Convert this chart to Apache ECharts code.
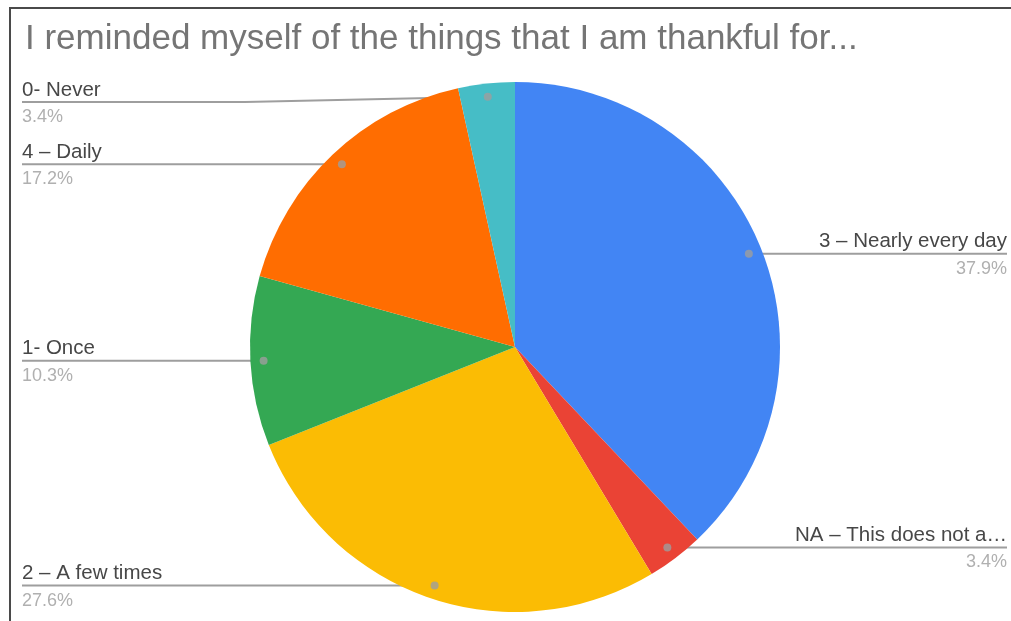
<!DOCTYPE html>
<html>
<head>
<meta charset="utf-8">
<script src="https://cdn.jsdelivr.net/npm/echarts@6/dist/echarts.min.js"></script>
<style>
  html, body { margin: 0; padding: 0; background: #fff; }
  #chart { position: absolute; left: 0; top: 0; width: 1011px; height: 621px; }
  #frame { position: absolute; left: 9px; top: 7px; width: 1010px; height: 620px;
           border-left: 2px solid #4a4a4a; border-top: 2px solid #4a4a4a; pointer-events: none; }
</style>
</head>
<body>
<div id="chart"></div>
<div id="frame"></div>
<script>
// Survey answers, in the order the slices run clockwise from twelve o'clock
const categories = [
  '3 – Nearly every day',
  'NA – This does not a…',
  '2 – A few times',
  '1- Once',
  '4 – Daily',
  '0- Never'
];
const responses = [11, 1, 8, 3, 5, 1];
const sliceColors = ['#4285f4', '#ea4335', '#fbbc04', '#34a853', '#ff6d01', '#46bdc6'];
const titleText = 'I reminded myself of the things that I am thankful for...';

// Pie geometry (pixels)
const CX = 515, CY = 347, R = 265;
const DOT_RATIO = 0.95;       // where the leader line starts, relative to the radius
const LEFT_EDGE = 22, RIGHT_EDGE = 1007, LABEL_MIN_Y = 102, LEFT_BEND = 245;
const FONT = '"Liberation Sans", Arial, sans-serif';

const total = responses.reduce((a, b) => a + b, 0);

// angle positions (in response units) of each slice's middle, for the leader dots
const midPoints = [];
let running = 0;
responses.forEach(v => { midPoints.push(running + v / 2); running += v; });

const chart = echarts.init(document.getElementById('chart'), null, { renderer: 'canvas' });

chart.setOption({
  animation: false,
  title: {
    text: titleText,
    left: 20,
    top: 17,
    textStyle: { fontFamily: FONT, fontSize: 35, fontWeight: 'normal', color: '#757575' }
  },
  polar: { center: [CX, CY], radius: R },
  angleAxis: { type: 'value', min: 0, max: total, startAngle: 90, clockwise: true, show: false },
  radiusAxis: { type: 'value', min: 0, max: 1, show: false },
  series: [
    {
      type: 'pie',
      center: [CX, CY],
      radius: R,
      startAngle: 90,
      clockwise: true,
      z: 2,
      data: categories.map((name, i) => ({
        name, value: responses[i], itemStyle: { color: sliceColors[i] }
      })),
      itemStyle: { borderWidth: 0 },
      emphasis: { disabled: true },
      label: {
        position: 'outer',
        formatter: p => '{n|' + p.name + '}\n{p|' + (p.value / total * 100).toFixed(1) + '%}',
        rich: {
          n: { fontFamily: FONT, fontSize: 20.5, color: '#474747', lineHeight: 30 },
          p: { fontFamily: FONT, fontSize: 18, color: '#b0b0b0', lineHeight: 24 }
        }
      },
      labelLine: { show: true, length: 10, length2: 10, lineStyle: { color: '#9e9e9e', width: 2 } },
      labelLayout: params => {
        const p0 = params.labelLinePoints[0];
        const ang = Math.atan2(p0[1] - CY, p0[0] - CX);
        const dx = CX + Math.cos(ang) * R * DOT_RATIO;
        const dy = CY + Math.sin(ang) * R * DOT_RATIO;
        const isLeft = dx < CX;
        const ly = Math.max(dy, LABEL_MIN_Y);
        const edgeX = isLeft ? LEFT_EDGE : RIGHT_EDGE;
        const bendX = isLeft ? Math.min(dx, LEFT_BEND) : dx;
        return {
          x: edgeX,
          y: ly,
          align: isLeft ? 'left' : 'right',
          verticalAlign: 'middle',
          labelLinePoints: [[dx, dy], [bendX, ly], [edgeX, ly]]
        };
      }
    },
    {
      // leader-line dots at the slice middles
      type: 'scatter',
      coordinateSystem: 'polar',
      z: 5,
      silent: true,
      symbol: 'circle',
      symbolSize: 8,
      itemStyle: { color: '#9e9e9e' },
      data: midPoints.map(m => [DOT_RATIO, m])
    }
  ]
});
</script>
</body>
</html>
